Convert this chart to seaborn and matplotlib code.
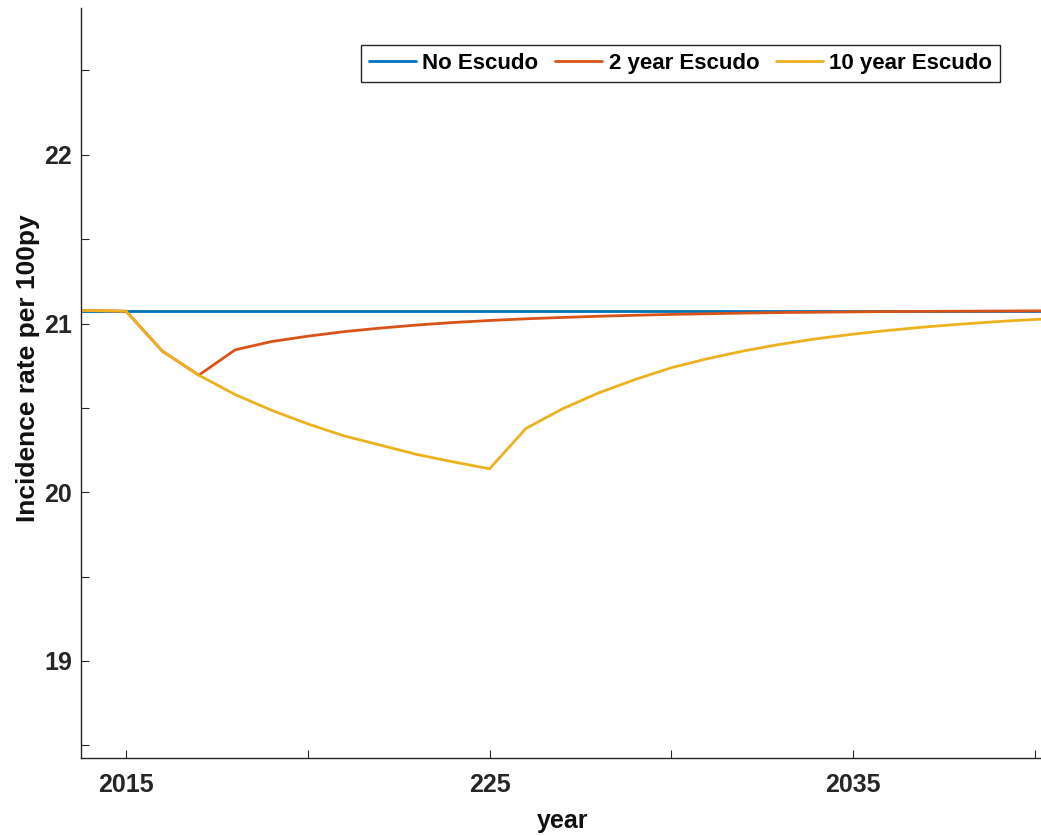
import matplotlib
matplotlib.use("Agg")
import matplotlib.pyplot as plt
import seaborn as sns
import pandas as pd

# Simulated incidence under three Escudo scenarios, one value per year
years = list(range(2013, 2042))

no_escudo = [21.077] * len(years)

two_year_escudo = [
    21.077, 21.077, 21.073, 20.836, 20.694, 20.844, 20.893, 20.925,
    20.952, 20.973, 20.991, 21.006, 21.018, 21.028, 21.036, 21.043,
    21.049, 21.054, 21.058, 21.062, 21.065, 21.067, 21.069, 21.071,
    21.072, 21.073, 21.074, 21.075, 21.076,
]

ten_year_escudo = [
    21.077, 21.077, 21.073, 20.836, 20.694, 20.579, 20.486, 20.405,
    20.334, 20.279, 20.224, 20.180, 20.139, 20.378, 20.494, 20.589,
    20.668, 20.738, 20.792, 20.838, 20.877, 20.910, 20.937, 20.960,
    20.980, 20.997, 21.012, 21.024, 21.034,
]

scenarios = ["No Escudo", "2 year Escudo", "10 year Escudo"]
colors = ["#0072BD", "#D95319", "#EDB120"]

x_ticks = [2015, 2020, 2025, 2030, 2035, 2040]
x_tick_labels = ["2015", "", "225", "", "2035", ""]
y_ticks = [18.5, 19, 19.5, 20, 20.5, 21, 21.5, 22, 22.5]
y_tick_labels = ["", "19", "", "20", "", "21", "", "22", ""]

df = pd.concat(
    [
        pd.DataFrame({"year": years, "rate": vals, "scenario": name})
        for name, vals in zip(scenarios, [no_escudo, two_year_escudo, ten_year_escudo])
    ],
    ignore_index=True,
)

sns.set_theme(style="white")
plt.rcParams["font.family"] = ["Liberation Sans", "DejaVu Sans"]
plt.rcParams["font.weight"] = "bold"

fig = plt.figure(figsize=(10.41, 8.36), dpi=100)
ax = fig.add_axes([81 / 1041, 1 - 758 / 836, 1 - 81 / 1041, (758 - 8) / 836])

sns.lineplot(
    data=df, x="year", y="rate", hue="scenario", hue_order=scenarios,
    palette=colors, linewidth=2.0, ax=ax, legend=True,
)

ax.set_xlim(2013.76, 2040.17)
ax.set_ylim(18.425, 22.87)

ax.set_xticks(x_ticks)
ax.set_xticklabels(x_tick_labels)
ax.set_yticks(y_ticks)
ax.set_yticklabels(y_tick_labels)

tick_color = "#262626"
ax.tick_params(axis="both", direction="in", length=6, width=0.8,
               colors=tick_color, labelsize=18, bottom=True, left=True)
ax.tick_params(axis="x", pad=11)
ax.tick_params(axis="y", pad=6.5)
for lbl in ax.get_xticklabels() + ax.get_yticklabels():
    lbl.set_fontweight("bold")

for side in ["top", "right"]:
    ax.spines[side].set_visible(False)
for side in ["left", "bottom"]:
    ax.spines[side].set_color(tick_color)
    ax.spines[side].set_linewidth(1.0)

ax.set_xlabel("year", fontsize=18, fontweight="bold", color="#111111")
ax.set_ylabel("Incidence rate per 100py", fontsize=19, fontweight="bold", color="#111111")
ax.xaxis.set_label_coords((563 - 81) / 960, -(809 - 758) / 750)
ax.yaxis.set_label_coords(-(81 - 40) / 960, (758 - 368) / 750)

handles, labels = ax.get_legend_handles_labels()
leg = ax.legend(
    handles, labels, ncol=3, loc="upper right",
    bbox_to_anchor=(1000 / 1041, 1 - 45 / 836), bbox_transform=fig.transFigure,
    borderaxespad=0, frameon=True, fancybox=False, framealpha=1,
    edgecolor="#262626", handlelength=2.1, handletextpad=0.3,
    columnspacing=0.75, borderpad=0.35,
    prop={"weight": "bold", "size": 16},
)
leg.get_frame().set_linewidth(1.0)
for text in leg.get_texts():
    text.set_color("#000000")
for line in leg.get_lines():
    line.set_linewidth(2.0)

fig.savefig("out.png", dpi=100)
